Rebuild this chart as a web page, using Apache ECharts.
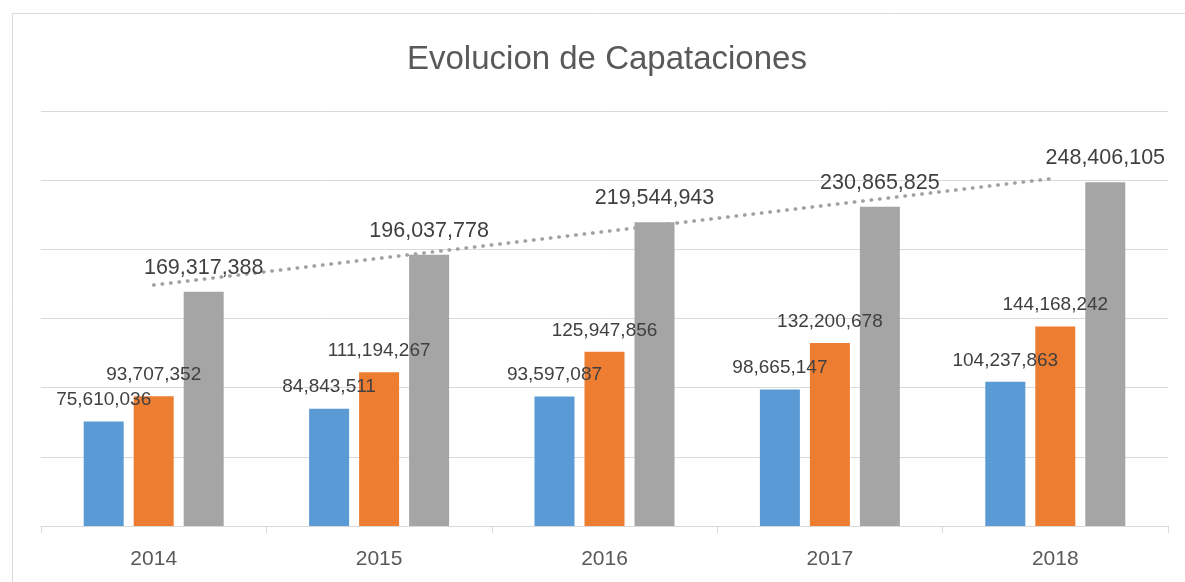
<!DOCTYPE html>
<html>
<head>
<meta charset="utf-8">
<script src="https://cdn.jsdelivr.net/npm/echarts@6/dist/echarts.min.js"></script>
<style>
html,body{margin:0;padding:0;background:#fff;}
#chart{width:1185px;height:582px;}
</style>
</head>
<body>
<div id="chart"></div>
<script>
const categories = ['2014', '2015', '2016', '2017', '2018'];
const seriesA = [75610036, 84843511, 93597087, 98665147, 104237863];
const seriesB = [93707352, 111194267, 125947856, 132200678, 144168242];
const seriesC = [169317388, 196037778, 219544943, 230865825, 248406105];
const yTicks = [0, 50000000, 100000000, 150000000, 200000000, 250000000, 300000000];

// Linear trendline (least squares) of seriesC, as Excel draws it
function linearTrend(vals) {
  const n = vals.length;
  let sx = 0, sy = 0, sxy = 0, sxx = 0;
  vals.forEach((v, i) => { const x = i + 1; sx += x; sy += v; sxy += x * v; sxx += x * x; });
  const b = (n * sxy - sx * sy) / (n * sxx - sx * sx);
  const a = (sy - b * sx) / n;
  return vals.map((v, i) => a + b * (i + 1));
}
const trendC = linearTrend(seriesC);

const fmt = v => v.toLocaleString('en-US');
const FONT = '"Liberation Sans", Arial, sans-serif';

const chart = echarts.init(document.getElementById('chart'), null, {renderer: 'canvas'});
chart.setOption({
  animation: false,
  backgroundColor: '#ffffff',
  graphic: [{
    type: 'rect',
    shape: {x: 12.5, y: 13.5, width: 1400, height: 800},
    style: {fill: 'none', stroke: '#d9d9d9', lineWidth: 1},
    silent: true
  }],
  title: {
    text: 'Evolucion de Capataciones',
    left: 407,
    top: 43,
    padding: 0,
    textStyle: {fontFamily: FONT, fontSize: 33, fontWeight: 'normal', color: '#595959'}
  },
  grid: {left: 41, right: 17, top: 111, bottom: 56, containLabel: false},
  xAxis: {
    type: 'category',
    data: categories,
    boundaryGap: true,
    axisLine: {show: true, lineStyle: {color: '#d9d9d9', width: 1}},
    axisTick: {show: true, length: 7, lineStyle: {color: '#d9d9d9'}},
    axisLabel: {fontFamily: FONT, fontSize: 21, color: '#595959', margin: 23},
    splitLine: {show: false}
  },
  yAxis: {
    type: 'value',
    min: yTicks[0],
    max: yTicks[yTicks.length - 1],
    interval: yTicks[1] - yTicks[0],
    axisLine: {show: false},
    axisTick: {show: false},
    axisLabel: {show: false},
    splitLine: {show: true, lineStyle: {color: '#d9d9d9', width: 1}}
  },
  series: [
    {
      type: 'bar', data: seriesA, barWidth: 40, barGap: '25%',
      itemStyle: {color: '#5b9bd5'},
      label: {show: true, position: 'top', distance: 12, formatter: p => fmt(p.value),
              fontFamily: FONT, fontSize: 19, color: '#404040'}
    },
    {
      type: 'bar', data: seriesB, barWidth: 40, barGap: '25%',
      itemStyle: {color: '#ed7d31'},
      label: {show: true, position: 'top', distance: 12, formatter: p => fmt(p.value),
              fontFamily: FONT, fontSize: 19, color: '#404040'}
    },
    {
      type: 'bar', data: seriesC, barWidth: 40, barGap: '25%',
      itemStyle: {color: '#a5a5a5'},
      label: {show: true, position: 'top', distance: 13, formatter: p => fmt(p.value),
              fontFamily: FONT, fontSize: 21.5, color: '#404040'}
    },
    {
      type: 'line', data: trendC, symbol: 'none', silent: true, z: 1,
      lineStyle: {color: '#a0a0a0', width: 3.5, type: [0.5, 8], cap: 'round'}
    }
  ]
});
</script>
</body>
</html>
